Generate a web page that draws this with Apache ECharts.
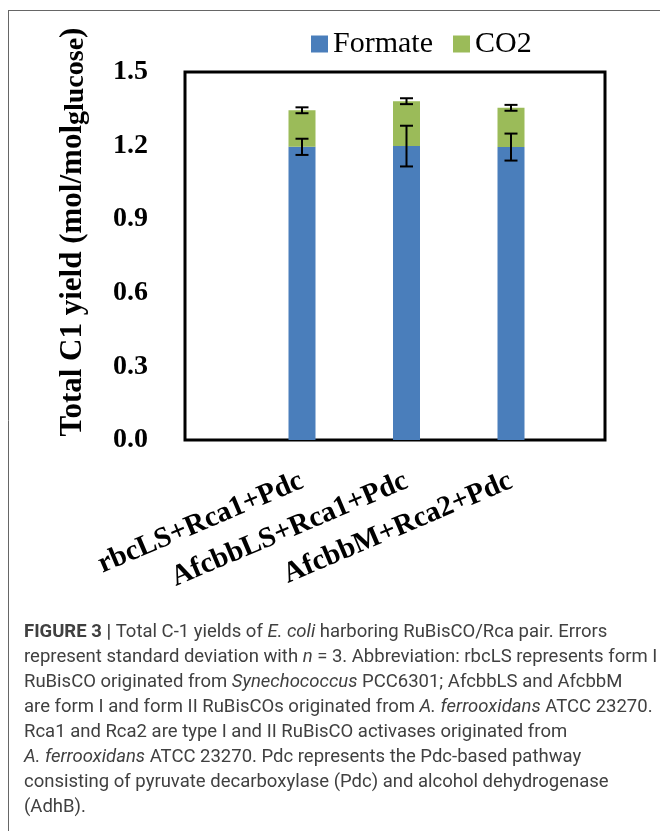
<!DOCTYPE html>
<html>
<head>
<meta charset="utf-8">
<script src="https://cdn.jsdelivr.net/npm/echarts@6/dist/echarts.min.js"></script>
<style>
html,body{margin:0;padding:0;background:#fff;}
#chart{width:660px;height:831px;}
</style>
</head>
<body>
<div id="chart"></div>
<script>
// ---- data ----
var categories = ['rbcLS+Rca1+Pdc', 'AfcbbLS+Rca1+Pdc', 'AfcbbM+Rca2+Pdc'];
var formate = [1.195, 1.198, 1.194];
var co2 = [0.149, 0.183, 0.160];
var formateErr = [0.033, 0.083, 0.055];
var totalErr = [0.012, 0.012, 0.012];
var seriesNames = ['Formate', 'CO2'];
var yTicks = { min: 0, max: 1.5, step: 0.3 };
var yTitle = 'Total C1 yield (mol/mol';
var yTitleSub = 'glucose';
var captionLines = [
  '{b|FIGURE 3 |} Total C-1 yields of {i|E. coli} harboring RuBisCO/Rca pair. Errors',
  'represent standard deviation with {i|n} = 3. Abbreviation: rbcLS represents form I',
  'RuBisCO originated from {i|Synechococcus} PCC6301; AfcbbLS and AfcbbM',
  'are form I and form II RuBisCOs originated from {i|A. ferrooxidans} ATCC 23270.',
  'Rca1 and Rca2 are type I and II RuBisCO activases originated from',
  '{i|A. ferrooxidans} ATCC 23270. Pdc represents the Pdc-based pathway',
  'consisting of pyruvate decarboxylase (Pdc) and alcohol dehydrogenase',
  '(AdhB).'
];

// ---- build ----
var chart = echarts.init(document.getElementById('chart'), null, {renderer: 'canvas'});
var serif = '"Liberation Serif", "Times New Roman", serif';
var sans = 'Roboto, "Liberation Sans", Arial, sans-serif';
var BLUE = '#4A7EBB', GREEN = '#9BBB59';

var errData = [];
for (var i = 0; i < categories.length; i++) {
  errData.push([i, formate[i], formateErr[i]]);
  errData.push([i, formate[i] + co2[i], totalErr[i]]);
}

var capFont = 18.5;
var capColor = '#404040';
var graphics = [
  {type: 'line', shape: {x1: 8.5, y1: 10, x2: 8.5, y2: 831}, style: {stroke: '#666', lineWidth: 1}},
  {type: 'line', shape: {x1: 8, y1: 10.5, x2: 660, y2: 10.5}, style: {stroke: '#666', lineWidth: 1}},
  {
    type: 'text', x: 73, y: 232, rotation: Math.PI / 2,
    style: {
      text: yTitle + '{s|' + yTitleSub + '}' + ')',
      fontFamily: serif, fontSize: 31, fontWeight: 'bold', fill: '#000',
      align: 'center', verticalAlign: 'middle',
      rich: {s: {fontFamily: serif, fontSize: 28, fontWeight: 'bold', fill: '#000', verticalAlign: 'bottom', padding: [6, 0, 0, 0]}}
    }
  }
];
captionLines.forEach(function (ln, k) {
  graphics.push({
    type: 'text', x: 24, y: 632 + k * 25,
    style: {
      text: ln, fontFamily: sans, fontSize: capFont, fill: capColor,
      align: 'left', verticalAlign: 'middle',
      rich: {
        b: {fontFamily: sans, fontSize: capFont, fontWeight: 'bold', fill: capColor},
        i: {fontFamily: sans, fontSize: capFont, fontStyle: 'italic', fill: capColor}
      }
    }
  });
});

var option = {
  animation: false,
  backgroundColor: '#fff',
  legend: {
    data: seriesNames, left: 306, top: 24,
    itemWidth: 17, itemHeight: 17, itemGap: 20, icon: 'rect',
    textStyle: {fontFamily: serif, fontSize: 30, color: '#000'}
  },
  grid: [
    {left: 185, top: 72, width: 420, height: 368, show: true, borderColor: '#000', borderWidth: 3, backgroundColor: 'transparent'},
    {left: 249.75, top: 72, width: 313.5, height: 368}
  ],
  xAxis: [
    {gridIndex: 0, type: 'value', show: false, min: 0, max: 1},
    {
      gridIndex: 1, type: 'category', data: categories,
      axisLine: {show: false}, axisTick: {show: false},
      axisLabel: {interval: 0, rotate: 23, margin: 40, fontFamily: serif, fontSize: 29, fontWeight: 'bold', color: '#000'}
    }
  ],
  yAxis: [
    {
      gridIndex: 0, type: 'value', min: yTicks.min, max: yTicks.max, interval: yTicks.step,
      axisLine: {show: false}, axisTick: {show: false}, splitLine: {show: false},
      axisLabel: {margin: 37, fontFamily: serif, fontSize: 28, fontWeight: 'bold', color: '#000',
        formatter: function (v) { return v.toFixed(1); }}
    },
    {gridIndex: 1, type: 'value', min: yTicks.min, max: yTicks.max, show: false}
  ],
  series: [
    {name: seriesNames[0], type: 'bar', stack: 'c1', xAxisIndex: 1, yAxisIndex: 1, barWidth: 27,
      itemStyle: {color: BLUE}, data: formate},
    {name: seriesNames[1], type: 'bar', stack: 'c1', xAxisIndex: 1, yAxisIndex: 1, barWidth: 27,
      itemStyle: {color: GREEN}, data: co2},
    {
      name: 'err', type: 'custom', xAxisIndex: 1, yAxisIndex: 1, z: 10, data: errData,
      renderItem: function (params, api) {
        var x = api.value(0), c = api.value(1), e = api.value(2);
        var t = api.coord([x, c + e]);
        var b = api.coord([x, c - e]);
        var hw = 6.5;
        var st = {stroke: '#000', lineWidth: 2};
        return {type: 'group', children: [
          {type: 'line', shape: {x1: t[0], y1: t[1], x2: b[0], y2: b[1]}, style: st},
          {type: 'line', shape: {x1: t[0] - hw, y1: t[1], x2: t[0] + hw, y2: t[1]}, style: st},
          {type: 'line', shape: {x1: b[0] - hw, y1: b[1], x2: b[0] + hw, y2: b[1]}, style: st}
        ]};
      }
    }
  ],
  graphic: graphics
};
chart.setOption(option);
</script>
</body>
</html>
